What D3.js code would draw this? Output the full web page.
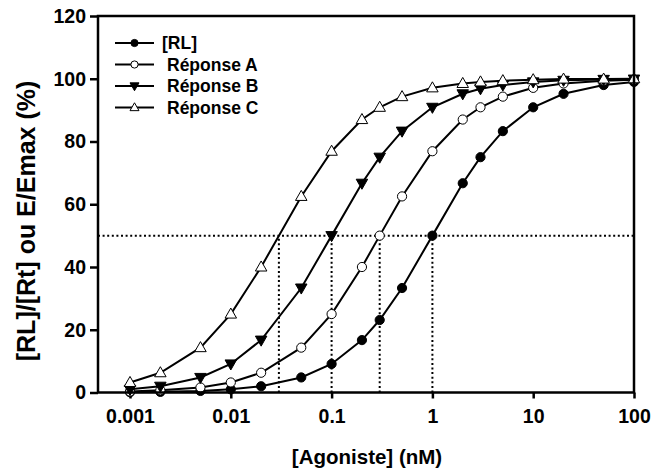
<!DOCTYPE html>
<html>
<head>
<meta charset="utf-8">
<script src="https://cdn.jsdelivr.net/npm/d3@7"></script>
<style>
  html, body { margin: 0; padding: 0; background: #fff; }
  svg text { font-family: "Liberation Sans", Arial, sans-serif; font-weight: bold; fill: #000; }
</style>
</head>
<body>
<svg id="chart" width="654" height="470"></svg>
<script>
// Agonist concentrations (nM)
const concentrations = [0.001, 0.002, 0.005, 0.01, 0.02, 0.05, 0.1, 0.2, 0.3, 0.5, 1, 2, 3, 5, 10, 20, 50, 100];

// Occupancy and responses (% of max)
const rl        = [0.1, 0.2, 0.5, 1.0, 2.0, 4.8, 9.1, 16.7, 23.1, 33.3, 50.0, 66.7, 75.0, 83.3, 90.9, 95.2, 98.0, 99.0];
const reponseA  = [0.3, 0.7, 1.6, 3.2, 6.3, 14.3, 25.0, 40.0, 50.0, 62.5, 76.9, 87.0, 90.9, 94.3, 97.1, 98.5, 99.4, 99.7];
const reponseB  = [1.0, 2.0, 4.8, 9.1, 16.7, 33.3, 50.0, 66.7, 75.0, 83.3, 90.9, 95.2, 96.8, 98.0, 99.0, 99.5, 99.8, 99.9];
const reponseC  = [3.2, 6.3, 14.3, 25.0, 40.0, 62.5, 76.9, 87.0, 90.9, 94.3, 97.1, 98.5, 99.0, 99.4, 99.7, 99.9, 99.9, 100.0];

const seriesNames = ["[RL]", "Réponse A", "Réponse B", "Réponse C"];
const seriesValues = [rl, reponseA, reponseB, reponseC];

// Half-maximal concentrations marked with dotted guides
const halfLevel = 50;
const ec50s = [0.03, 0.1, 0.3, 1];

const xTicks = [0.001, 0.01, 0.1, 1, 10, 100];
const xTickLabels = ["0.001", "0.01", "0.1", "1", "10", "100"];
const yTicks = [0, 20, 40, 60, 80, 100, 120];

const svg = d3.select("#chart");
const frame = { left: 98, right: 634, top: 16, bottom: 392.5 };

const x = d3.scaleLog().domain([0.001, 100]).range([130, 634]);
const y = d3.scaleLinear().domain([0, 120]).range([frame.bottom, frame.top]);

// Dotted guides
const guides = svg.append("g")
  .attr("stroke", "#000").attr("stroke-width", 2).attr("stroke-dasharray", "2,2.6").attr("fill", "none");
guides.append("line")
  .attr("x1", frame.left).attr("x2", frame.right)
  .attr("y1", y(halfLevel)).attr("y2", y(halfLevel));
guides.selectAll("line.v").data(ec50s).join("line").attr("class", "v")
  .attr("x1", d => x(d)).attr("x2", d => x(d))
  .attr("y1", y(0)).attr("y2", y(halfLevel));

// Axes
const xAxis = d3.axisBottom(x).tickValues(xTicks).tickFormat((d, i) => xTickLabels[i]).tickSize(6).tickPadding(11);
const yAxis = d3.axisLeft(y).tickValues(yTicks).tickSize(8).tickPadding(4);

const gx = svg.append("g").attr("transform", `translate(0,${frame.bottom})`).call(xAxis);
const gy = svg.append("g").attr("transform", `translate(${frame.left},0)`).call(yAxis);
[gx, gy].forEach(g => {
  g.select(".domain").remove();
  g.selectAll(".tick line").attr("stroke", "#000").attr("stroke-width", 2.5);
  g.selectAll(".tick text").attr("font-size", 19.5).attr("font-family", "Liberation Sans, Arial, sans-serif").attr("font-weight", "bold");
});

// Series lines and markers
const markerSize = 4.6;
function drawMarker(sel, idx, r) {
  if (idx === 0 || idx === 1) {
    sel.append("circle").attr("r", r)
      .attr("fill", idx === 0 ? "#000" : "#fff").attr("stroke", "#000").attr("stroke-width", 1);
  } else {
    const s = r * 1.25;
    const pts = idx === 2
      ? [[-s, -s * 0.7], [s, -s * 0.7], [0, s * 1.05]]
      : [[-s, s * 0.7], [s, s * 0.7], [0, -s * 1.05]];
    sel.append("path").attr("d", "M" + pts.map(p => p.join(",")).join("L") + "Z")
      .attr("fill", idx === 2 ? "#000" : "#fff").attr("stroke", "#000").attr("stroke-width", 1);
  }
}

const line = d3.line().x(d => x(d[0])).y(d => y(d[1]));
seriesValues.forEach((vals, idx) => {
  const pts = concentrations.map((c, i) => [c, vals[i]]);
  const g = svg.append("g");
  g.append("path").datum(pts).attr("d", line)
    .attr("fill", "none").attr("stroke", "#000").attr("stroke-width", 2);
  pts.forEach(p => {
    const m = g.append("g").attr("transform", `translate(${x(p[0])},${y(p[1])})`);
    drawMarker(m, idx, markerSize);
  });
});

// Frame
svg.append("rect")
  .attr("x", frame.left).attr("y", frame.top)
  .attr("width", frame.right - frame.left).attr("height", frame.bottom - frame.top)
  .attr("fill", "none").attr("stroke", "#000").attr("stroke-width", 2.5);

// Legend
const legend = svg.append("g");
seriesNames.forEach((name, idx) => {
  const ly = 43 + idx * 21.5;
  legend.append("line").attr("x1", 115).attr("x2", 154).attr("y1", ly).attr("y2", ly)
    .attr("stroke", "#000").attr("stroke-width", 2);
  drawMarker(legend.append("g").attr("transform", `translate(134.5,${ly})`), idx, 3.6);
  legend.append("text").attr("x", idx === 0 ? 162 : 167).attr("y", ly + 6)
    .attr("font-size", 17.5).text(name);
});

// Axis titles
svg.append("text").attr("x", 367).attr("y", 464).attr("text-anchor", "middle")
  .attr("font-size", 20.5).text("[Agoniste] (nM)");
svg.append("text").attr("transform", "translate(35,221) rotate(-90)").attr("text-anchor", "middle")
  .attr("font-size", 25).text("[RL]/[Rt] ou E/Emax (%)");
</script>
</body>
</html>
